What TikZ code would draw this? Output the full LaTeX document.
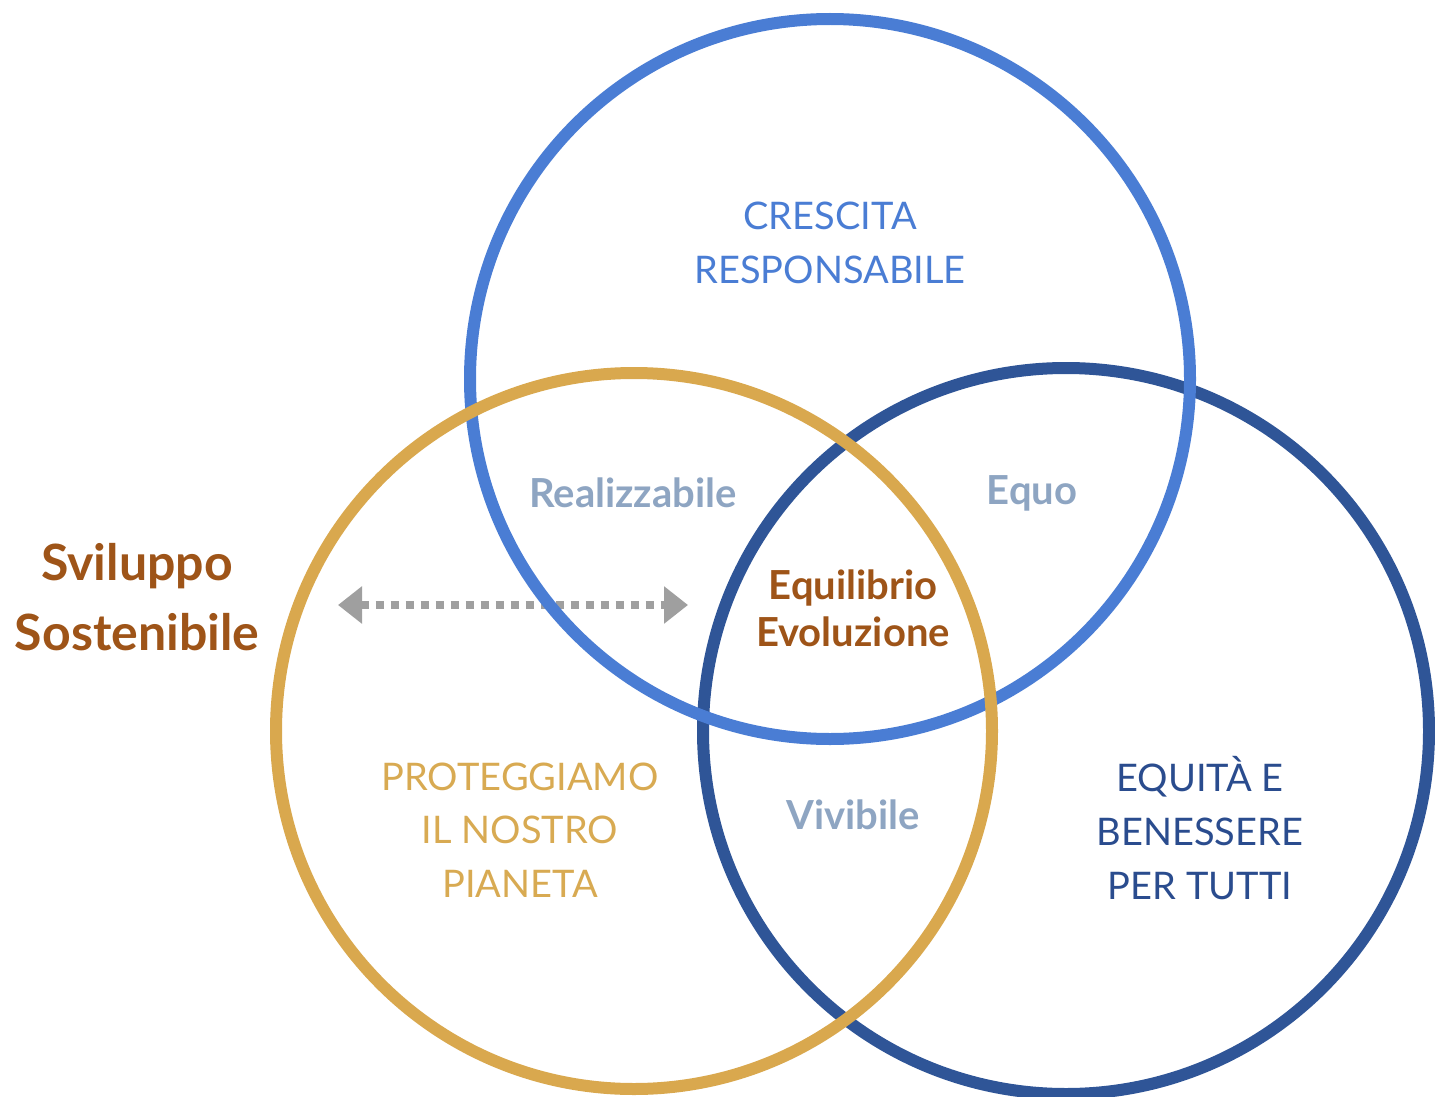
\documentclass[tikz,border=0pt]{standalone}
\usepackage{fontspec}
\setmainfont{Lato}
\usepackage{tikz}
\usepackage{xcolor}
\usetikzlibrary{arrows.meta, positioning}
\definecolor{ringblue}{HTML}{4A7DD4}
\definecolor{ringdark}{HTML}{2F5597}
\definecolor{ringgold}{HTML}{D9A84E}
\definecolor{txtbrown}{HTML}{9E5418}
\definecolor{txtgrey}{HTML}{8EA5C2}
\definecolor{txtgold}{HTML}{D8AA52}
\definecolor{txtdark}{HTML}{2A4C8E}
\tikzset{ring/.style={circle, draw, line width=6pt, inner sep=0pt}}
\tikzset{caps/.style={align=center, font=\fontsize{19}{26.8}\selectfont}}
\tikzset{meet/.style={align=center, text=txtgrey, font=\bfseries\fontsize{20}{23.5}\selectfont}}

\begin{document}
\begin{tikzpicture}[x=0.5pt, y=-0.5pt]
                        % pixel grid of the reference, y downwards
                        \useasboundingbox (0, 0) rectangle (1435, 1097);
                        \coordinate (al) at (338, 605);
                        \coordinate (ar) at (688, 605);
                        \draw[gray!75, line width=4pt, dash pattern=on 4pt off 3.5pt,
                              {Triangle[length=12pt, width=18pt]}-{Triangle[length=12pt, width=18pt]}]
                        (al) -- (ar);

                        \node[ring, draw=ringdark, minimum size=363pt] (rdark) at (1066, 731) {};
                        \node[ring, draw=ringblue, minimum size=360pt] (rblue) at (830, 379) {};
                        \node[ring, draw=ringgold, minimum size=358pt] (rgold) at (634, 731) {};

                        \node[caps, text=ringblue] (crescita) at (830, 243) {CRESCITA\\RESPONSABILE};
                        \node[caps, text=txtgold] (pianeta) at (520, 830) {PROTEGGIAMO\\IL NOSTRO\\PIANETA};
                        \node[caps, text=txtdark] (tutti) at (1200, 828) {EQUITÀ E\\BENESSERE\\PER TUTTI};
                        \node[meet] (realizzabile) at (633, 493) {Realizzabile};
                        \node[meet] (equo) at (1032, 493) {Equo};
                        \node[meet] (vivibile) at (853, 815) {Vivibile};
                        \node[meet, text=txtbrown] (equilibrio) at (853, 608) {Equilibrio\\Evoluzione};
                        \node[align=center, text=txtbrown, font=\bfseries\fontsize{25}{35}\selectfont] (sviluppo) at (137, 597) {Sviluppo\\Sostenibile};
                    \end{tikzpicture}
\end{document}
